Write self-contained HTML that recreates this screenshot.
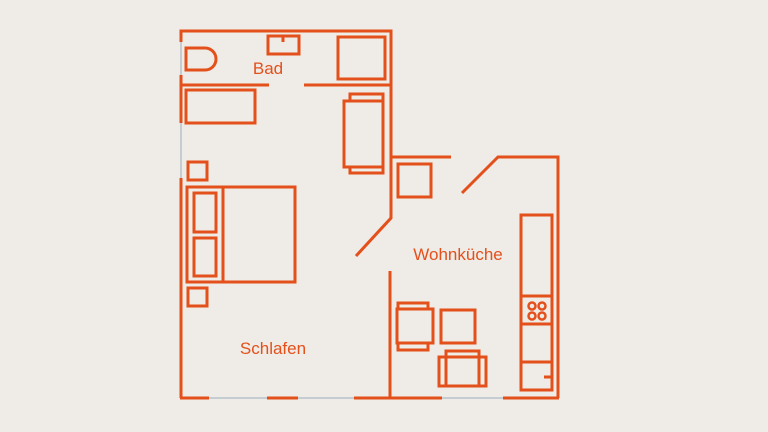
<!DOCTYPE html>
<html><head><meta charset="utf-8"><style>
html,body{margin:0;padding:0;background:#efebe6;}
svg{display:block}
text{font-family:"Liberation Sans",sans-serif;font-size:17px;fill:#e4501b;text-anchor:middle}
</style></head><body>
<svg width="768" height="432" viewBox="0 0 768 432" xmlns="http://www.w3.org/2000/svg">
<rect width="768" height="432" fill="#efebe6"/>
<g stroke="#b9c3cc" stroke-width="1.5" fill="none">
<line x1="181" y1="42" x2="181" y2="75"/>
<line x1="181" y1="123" x2="181" y2="178"/>
<line x1="209" y1="398" x2="267" y2="398"/>
<line x1="298" y1="398" x2="354" y2="398"/>
<line x1="442" y1="398" x2="503" y2="398"/>
</g>
<g stroke="#e4501b" stroke-width="3" fill="none" stroke-linecap="butt">
<polyline points="181,42 181,31 391,31 391,218 356,256"/>
<line x1="181" y1="75" x2="181" y2="123"/>
<line x1="181" y1="178" x2="181" y2="398"/>
<line x1="180" y1="398" x2="209" y2="398"/>
<line x1="267" y1="398" x2="298" y2="398"/>
<line x1="354" y1="398" x2="442" y2="398"/>
<line x1="503" y1="398" x2="559" y2="398"/>
<line x1="390" y1="271" x2="390" y2="398"/>
<line x1="391" y1="157" x2="451" y2="157"/>
<polyline points="462,193 498,157 558,157 558,398"/>
<line x1="181" y1="85" x2="269" y2="85"/>
<line x1="304" y1="85" x2="391" y2="85"/>
<path d="M186,48 H205 A11,11 0 0 1 205,70 H186 Z"/>
<rect x="268" y="36" width="31" height="18"/>
<line x1="283" y1="36" x2="283" y2="42"/>
<rect x="338" y="37" width="47" height="42"/>
<rect x="186" y="90" width="69" height="33"/>
<rect x="344" y="101" width="39" height="66"/>
<rect x="350" y="94" width="33" height="7"/>
<rect x="350" y="167" width="33" height="6"/>
<rect x="188" y="162" width="19" height="18"/>
<rect x="187" y="187" width="108" height="95"/>
<line x1="223" y1="187" x2="223" y2="282"/>
<rect x="194" y="193" width="22" height="39"/>
<rect x="194" y="238" width="22" height="38"/>
<rect x="188" y="288" width="19" height="18"/>
<rect x="398" y="164" width="33" height="33"/>
<rect x="521" y="215" width="31" height="175"/>
<line x1="521" y1="296" x2="552" y2="296"/>
<line x1="521" y1="324" x2="552" y2="324"/>
<line x1="521" y1="362" x2="552" y2="362"/>
<line x1="544" y1="377" x2="552" y2="377"/>
<circle cx="532" cy="306" r="3.5" stroke-width="2.5"/>
<circle cx="542" cy="306" r="3.5" stroke-width="2.5"/>
<circle cx="532" cy="316" r="3.5" stroke-width="2.5"/>
<circle cx="542" cy="316" r="3.5" stroke-width="2.5"/>
<rect x="397" y="309" width="36" height="34"/>
<rect x="398" y="303" width="30" height="6"/>
<rect x="398" y="343" width="30" height="7"/>
<rect x="441" y="310" width="34" height="33"/>
<rect x="439" y="357" width="47" height="29"/>
<rect x="446" y="351" width="33" height="35"/>
</g>
<text x="268" y="74">Bad</text>
<text x="458" y="260">Wohnküche</text>
<text x="273" y="354">Schlafen</text>
</svg>
</body></html>
